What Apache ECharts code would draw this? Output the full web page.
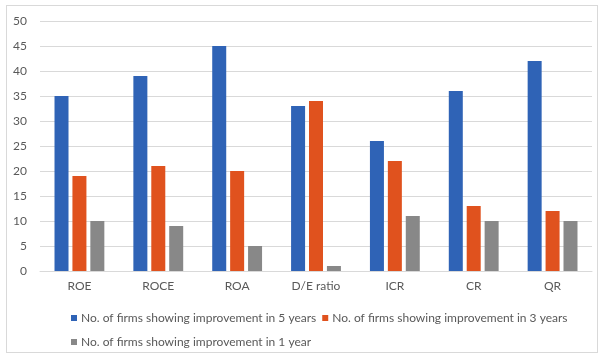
<!DOCTYPE html>
<html>
<head>
<meta charset="utf-8">
<script src="https://cdn.jsdelivr.net/npm/echarts@6/dist/echarts.min.js"></script>
<style>
  html, body { margin: 0; padding: 0; background: #ffffff; }
  #frame { position: absolute; left: 6px; top: 5px; width: 592px; height: 348px; border: 1px solid #d9d9d9; box-sizing: border-box; }
  #chart { position: absolute; left: 0; top: 0; width: 601px; height: 356px; }
</style>
</head>
<body>
<div id="frame"></div>
<div id="chart"></div>
<script>
// Financial ratios and how many firms improved on each
const categories = ['ROE', 'ROCE', 'ROA', 'D/E ratio', 'ICR', 'CR', 'QR'];
const seriesNames = [
  'No. of firms showing improvement in 5 years',
  'No. of firms showing improvement in 3 years',
  'No. of firms showing improvement in 1 year'
];
const improved5Years = [35, 39, 45, 33, 26, 36, 42];
const improved3Years = [19, 21, 20, 34, 22, 13, 12];
const improved1Year = [10, 9, 5, 1, 11, 10, 10];
const colors = ['#2f63b6', '#e0521e', '#888888'];

const font = 'Lato, "Open Sans", sans-serif';
const textColor = '#595959';

const chart = echarts.init(document.getElementById('chart'), null, { renderer: 'canvas' });

const legendBase = {
  left: 66,
  orient: 'horizontal',
  itemWidth: 6,
  itemHeight: 6,
  itemGap: 6,
  icon: 'rect',
  textStyle: { color: textColor, fontSize: 12, fontFamily: font, padding: [0, 0, 0, -1] }
};

chart.setOption({
  animation: false,
  backgroundColor: 'transparent',
  color: colors,
  grid: { left: 40, right: 9, top: 21, bottom: 85, containLabel: false },
  legend: [
    Object.assign({}, legendBase, { top: 307, data: [seriesNames[0], seriesNames[1]] }),
    Object.assign({}, legendBase, { top: 331, data: [seriesNames[2]] })
  ],
  xAxis: {
    type: 'category',
    data: categories,
    axisTick: { show: false },
    axisLine: { lineStyle: { color: '#d9d9d9', width: 1 } },
    axisLabel: { color: textColor, fontSize: 12, fontFamily: font, margin: 9 }
  },
  yAxis: {
    type: 'value',
    min: 0,
    max: 50,
    interval: 5,
    axisLine: { show: false },
    axisTick: { show: false },
    axisLabel: { color: textColor, fontSize: 12, fontFamily: font, margin: 13 },
    splitLine: { lineStyle: { color: '#d9d9d9', width: 1 } }
  },
  series: [
    { name: seriesNames[0], type: 'bar', data: improved5Years, barWidth: 14, barGap: '28%', barCategoryGap: '37%' },
    { name: seriesNames[1], type: 'bar', data: improved3Years, barWidth: 14, barGap: '28%', barCategoryGap: '37%' },
    { name: seriesNames[2], type: 'bar', data: improved1Year, barWidth: 14, barGap: '28%', barCategoryGap: '37%' }
  ]
});
</script>
</body>
</html>
